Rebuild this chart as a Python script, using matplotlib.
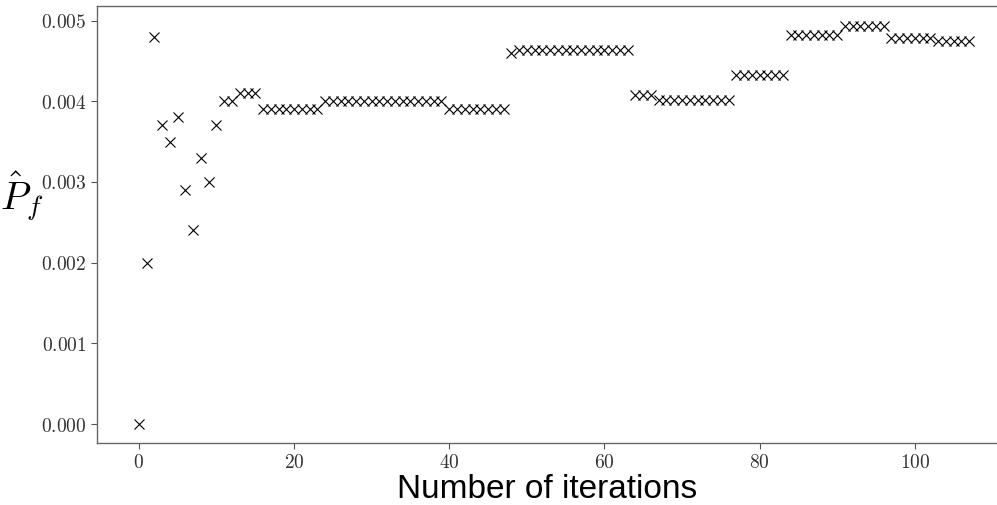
# grafica de la probabilidad de falla estimada vs numero de iteraciones
import matplotlib
matplotlib.use('Agg')
import matplotlib.pyplot as plt
import matplotlib.ticker as ticker

plt.rcParams['mathtext.fontset'] = 'cm'

# valores
iteraciones = list(range(108))
pf = [0.0000, 0.0020, 0.0048, 0.0037, 0.0035, 0.0038, 0.0029, 0.0024,
      0.0033, 0.0030, 0.0037, 0.0040, 0.0040, 0.0041, 0.0041, 0.0041,
      0.0039, 0.0039, 0.0039, 0.0039, 0.0039, 0.0039, 0.0039, 0.0039,
      0.0040, 0.0040, 0.0040, 0.0040, 0.0040, 0.0040, 0.0040, 0.0040,
      0.0040, 0.0040, 0.0040, 0.0040, 0.0040, 0.0040, 0.0040, 0.0040,
      0.0039, 0.0039, 0.0039, 0.0039, 0.0039, 0.0039, 0.0039, 0.0039,
      0.0046,
      0.00463, 0.00463, 0.00463, 0.00463, 0.00463, 0.00463, 0.00463, 0.00463,
      0.00463, 0.00463, 0.00463, 0.00463, 0.00463, 0.00463, 0.00463,
      0.00408, 0.00408, 0.00408,
      0.00402, 0.00402, 0.00402, 0.00402, 0.00402, 0.00402, 0.00402, 0.00402,
      0.00402, 0.00402,
      0.00432, 0.00432, 0.00432, 0.00432, 0.00432, 0.00432, 0.00432,
      0.00482, 0.00482, 0.00482, 0.00482, 0.00482, 0.00482, 0.00482,
      0.00493, 0.00493, 0.00493, 0.00493, 0.00493, 0.00493,
      0.00478, 0.00478, 0.00478, 0.00478, 0.00478, 0.00478,
      0.00475, 0.00475, 0.00475, 0.00475, 0.00475]

xticks = [0, 20, 40, 60, 80, 100]
yticks = [0.000, 0.001, 0.002, 0.003, 0.004, 0.005]

fig = plt.figure(figsize=(9.97, 5.05), dpi=100)
ax = fig.add_axes([0.0973, 0.1228, 0.9027, 0.8653])

ax.plot(iteraciones, pf, 'x', color='black', markersize=6.5, markeredgewidth=0.8)

ax.set_xlim(-5.4, 110.6)
ax.set_ylim(-0.000235, 0.00518)
ax.set_xticks(xticks)
ax.set_yticks(yticks)
ax.xaxis.set_major_formatter(ticker.FuncFormatter(lambda v, p: r'$%d$' % v))
ax.yaxis.set_major_formatter(ticker.FuncFormatter(lambda v, p: r'$%.3f$' % v))
ax.tick_params(axis='both', labelsize=14, colors='#555555', labelcolor='#333333',
               length=4, width=0.8)

for s in ['left', 'bottom', 'top']:
    ax.spines[s].set_color('#666666')
    ax.spines[s].set_linewidth(1.0)
ax.spines['right'].set_visible(False)

ax.set_xlabel('Number of iterations', fontsize=24, family='Liberation Sans', labelpad=1)
ax.set_ylabel(r'$\hat{P}_f$', fontsize=28, rotation=0, ha='center', va='center')
ax.yaxis.set_label_coords(-0.083, 0.565)

plt.savefig('out.png', dpi=100)
